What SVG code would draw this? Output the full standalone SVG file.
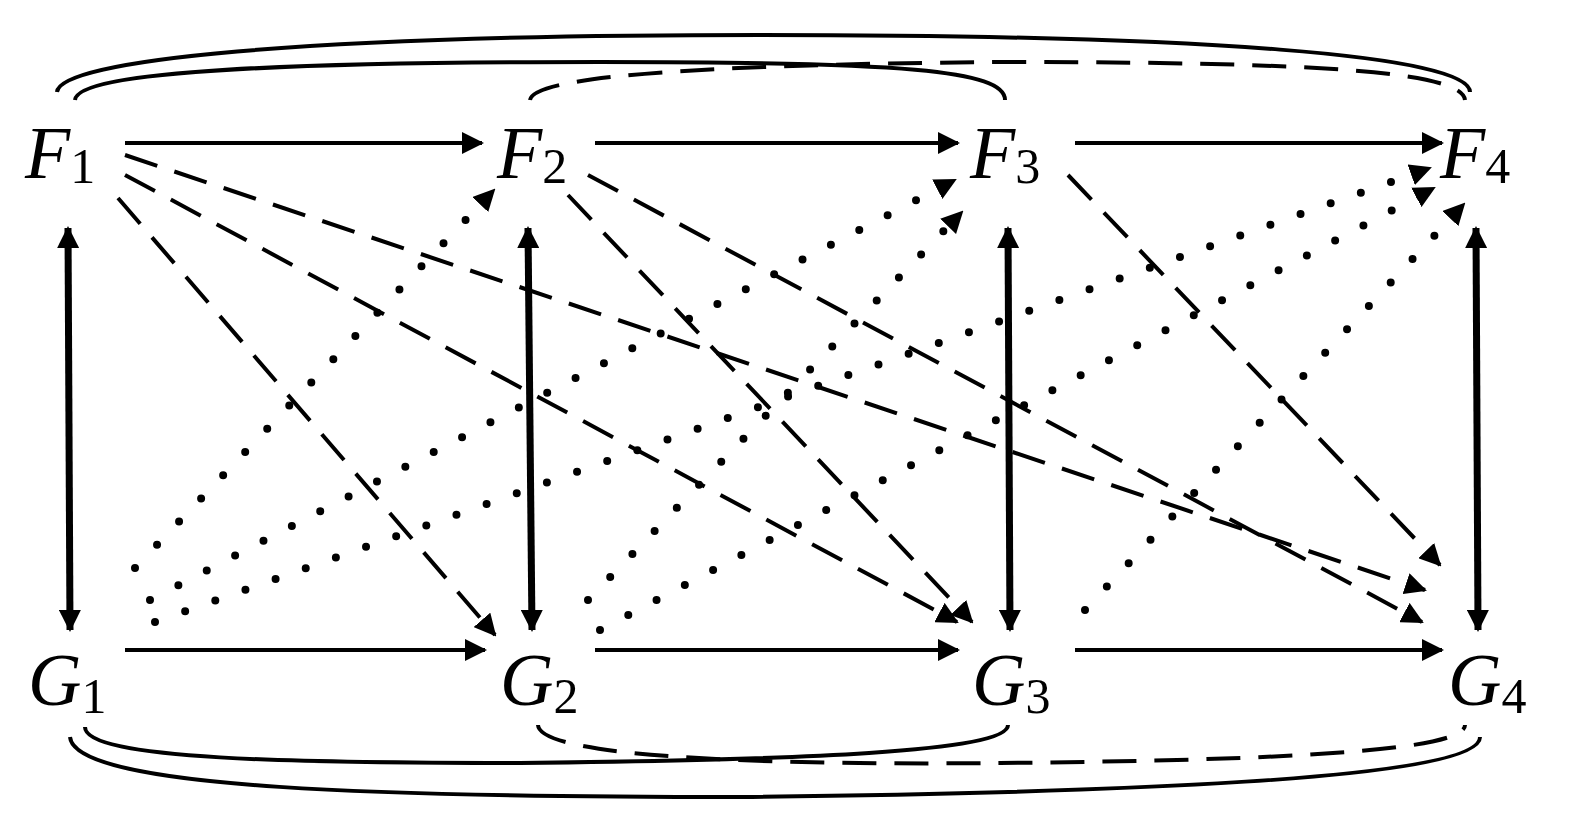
<svg xmlns="http://www.w3.org/2000/svg" width="1575" height="826" viewBox="0 0 1575 826">
<style>
.n{font-family:"Liberation Serif",serif;font-style:italic;font-size:74px;fill:#000}
.s{font-family:"Liberation Serif",serif;font-size:50px;font-style:normal}
.l{stroke:#000;stroke-width:4;fill:none}
.t{stroke:#000;stroke-width:7;fill:none}
.d{stroke-dasharray:34 18}
.o{stroke-dasharray:0 32;stroke-linecap:round;stroke-width:8}
</style>
<defs>
<marker id="b" viewBox="0 0 22 22" refX="20" refY="11" markerWidth="22" markerHeight="22" orient="auto-start-reverse" markerUnits="userSpaceOnUse"><path d="M0,0L22,11L0,22z"/></marker>
</defs>
<g id="connectors">
<path class="l" d="M125,143H482" marker-end="url(#b)"/>
<path class="l" d="M595,143H958" marker-end="url(#b)"/>
<path class="l" d="M1075,143H1442" marker-end="url(#b)"/>
<path class="l" d="M125,650H485" marker-end="url(#b)"/>
<path class="l" d="M595,650H958" marker-end="url(#b)"/>
<path class="l" d="M1075,650H1442" marker-end="url(#b)"/>
<path class="t" d="M68,228L70,630" marker-start="url(#b)" marker-end="url(#b)"/>
<path class="t" d="M528,228L532,630" marker-start="url(#b)" marker-end="url(#b)"/>
<path class="t" d="M1008,228L1010,630" marker-start="url(#b)" marker-end="url(#b)"/>
<path class="t" d="M1476,228L1478,630" marker-start="url(#b)" marker-end="url(#b)"/>
<path class="l d" d="M125,155L1425,590" marker-end="url(#b)"/>
<path class="l d" d="M125,175L957,622" marker-end="url(#b)"/>
<path class="l d" d="M118,198L495,635" marker-end="url(#b)"/>
<path class="l d" d="M588,175L1422,622" marker-end="url(#b)"/>
<path class="l d" d="M568,195L972,622" marker-end="url(#b)"/>
<path class="l d" d="M1068,175L1440,565" marker-end="url(#b)"/>
<path class="l o" d="M135,568L494,190" marker-end="url(#b)"/>
<path class="l o" d="M150,600L955,180" marker-end="url(#b)"/>
<path class="l o" d="M155,622L1430,168" marker-end="url(#b)"/>
<path class="l o" d="M588,600L962,212" marker-end="url(#b)"/>
<path class="l o" d="M600,630L1434,188" marker-end="url(#b)"/>
<path class="l o" d="M1085,610L1464,204" marker-end="url(#b)"/>
<path class="l" d="M57,92C60,60 300,35 760,35C1200,35 1470,55 1470,92"/>
<path class="l" d="M75,100C78,70 300,62 600,62C900,62 1005,70 1005,100"/>
<path class="l d" d="M530,100C533,80 650,65 1000,62C1300,62 1462,70 1465,100"/>
<path class="l" d="M85,727C85,760 300,763 520,763C800,760 1008,752 1008,725"/>
<path class="l" d="M70,737C75,790 400,797 740,797C1100,793 1480,780 1480,737"/>
<path class="l d" d="M538,725C540,760 800,765 1000,763C1300,760 1465,750 1465,725"/>
</g>
<g id="F1"><text class="n" x="25" y="178">F<tspan class="s" dy="5">1</tspan></text></g>
<g id="F2"><text class="n" x="497" y="178">F<tspan class="s" dy="5">2</tspan></text></g>
<g id="F3"><text class="n" x="970" y="178">F<tspan class="s" dy="5">3</tspan></text></g>
<g id="F4"><text class="n" x="1440" y="178">F<tspan class="s" dy="5">4</tspan></text></g>
<g id="G1"><text class="n" x="28" y="705">G<tspan class="s" dy="8">1</tspan></text></g>
<g id="G2"><text class="n" x="500" y="705">G<tspan class="s" dy="8">2</tspan></text></g>
<g id="G3"><text class="n" x="972" y="705">G<tspan class="s" dy="8">3</tspan></text></g>
<g id="G4"><text class="n" x="1448" y="705">G<tspan class="s" dy="8">4</tspan></text></g>
</svg>
